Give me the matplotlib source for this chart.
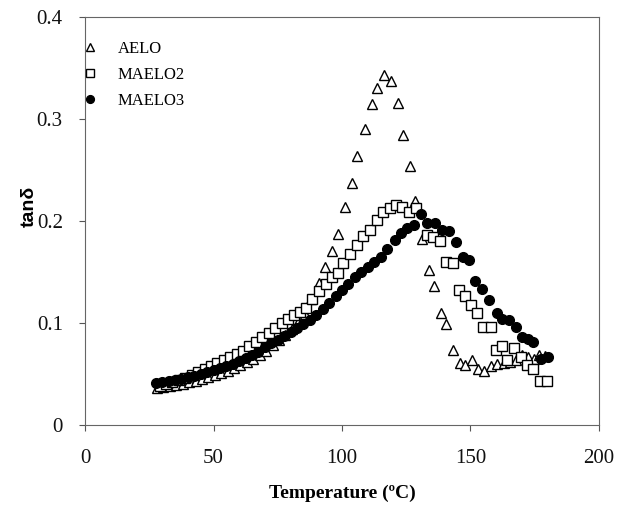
import matplotlib
matplotlib.use("Agg")
import matplotlib.pyplot as plt
from matplotlib.ticker import FuncFormatter

# AELO (open triangles)
aelo_t = [28, 30.5, 33, 35.5, 38, 40.5, 43, 45.5, 48, 50.5, 53, 55.5, 58, 60.5, 63, 65.5,
          68, 70.5, 73, 75.5, 78, 80.5, 83, 85.5, 88,
          91, 93.3, 96, 98.5, 101.2, 103.7, 106, 108.8, 111.5, 113.8, 116.3, 119.2, 121.6,
          123.7, 126.4, 128.4, 131.3, 133.9, 135.9, 138.7, 140.6, 143.2, 145.9, 148, 150.6,
          153.1, 155.3, 157.9, 160.5, 163.1, 165.3, 167.6, 169.9, 172.4, 174.6, 176.7, 179]
aelo_tan = [0.036, 0.037, 0.038, 0.039, 0.040, 0.042, 0.043, 0.045, 0.047, 0.049, 0.051,
            0.053, 0.056, 0.059, 0.062, 0.065, 0.069, 0.073, 0.078, 0.083, 0.088, 0.094,
            0.101, 0.109, 0.124,
            0.1395, 0.155, 0.171, 0.187, 0.214, 0.2375, 0.264, 0.290, 0.315, 0.330, 0.343,
            0.3375, 0.316, 0.284, 0.254, 0.220, 0.182, 0.152, 0.136, 0.1095, 0.099, 0.0735,
            0.0605, 0.0585, 0.0637, 0.055, 0.053, 0.058, 0.060, 0.0605, 0.062, 0.0637,
            0.0686, 0.067, 0.065, 0.0686, 0.068]

# MAELO2 (open squares)
maelo2_t = [29, 31.5, 34, 36.5, 39, 41.5, 44, 46.5, 49, 51.5, 54, 56.5, 59, 61.5, 64, 66.5,
            69, 71.5, 74, 76.5, 79, 81.5, 83.5, 85.8, 88.4, 91, 93.6, 96.2, 98.5, 100.5,
            103.3, 105.9, 108.3, 110.9, 113.5, 115.9, 118.7, 121.1, 123.5, 126, 128.7,
            133.2, 135.5, 138.1, 140.6, 143.3, 145.5, 147.9, 150.1, 152.7, 155, 157.9,
            159.8, 162.4, 164.4, 167, 169.6, 171.9, 174.5, 177.1, 179.6]
maelo2_tan = [0.038, 0.040, 0.042, 0.044, 0.046, 0.049, 0.052, 0.055, 0.058, 0.061, 0.064,
              0.067, 0.070, 0.073, 0.077, 0.081, 0.086, 0.090, 0.095, 0.100, 0.104, 0.108,
              0.111, 0.115, 0.124, 0.131, 0.138, 0.1448, 0.1487, 0.159, 0.168, 0.1765,
              0.1853, 0.191, 0.201, 0.209, 0.2124, 0.2157, 0.214, 0.209, 0.2124,
              0.186, 0.1846, 0.18, 0.1595, 0.1585, 0.132, 0.126, 0.1176, 0.110, 0.0958,
              0.0958, 0.0735, 0.0775, 0.064, 0.075, 0.067, 0.0588, 0.0546, 0.0434, 0.0434]

# MAELO3 (filled circles)
maelo3_t = [27.6, 30, 32.5, 35, 37.5, 40, 42.5, 45, 47.5, 50, 52.5, 55, 57.5, 60, 62.5, 65,
            67.5, 70, 72.5, 75, 77.5, 80, 82.5, 85, 87.5, 90, 92.5, 95, 97.5, 100, 102.5,
            105, 107.5, 110, 112.5, 115,
            117.6, 120.5, 122.8, 125.4, 128, 130.9, 133.2, 136.2, 139, 141.6, 144.2, 146.9,
            149.4, 151.8, 154.6, 157.2, 160.5, 162.4, 165, 167.6, 169.9, 172.2, 174.5,
            177.4, 180]
maelo3_tan = [0.041, 0.042, 0.043, 0.044, 0.045, 0.047, 0.048, 0.050, 0.052, 0.054,
              0.056, 0.058, 0.060, 0.063, 0.066, 0.069, 0.072, 0.076, 0.080, 0.083,
              0.087, 0.091, 0.095, 0.099, 0.103, 0.108, 0.114, 0.120, 0.126, 0.132,
              0.138, 0.145, 0.150, 0.155, 0.160, 0.165,
              0.173, 0.181, 0.188, 0.193, 0.196, 0.207, 0.198, 0.198, 0.191, 0.190,
              0.179, 0.165, 0.162, 0.1415, 0.133, 0.123, 0.110, 0.104, 0.103, 0.096,
              0.086, 0.084, 0.081, 0.065, 0.067]

x_ticks = [0, 50, 100, 150, 200]
y_ticks = [0, 0.1, 0.2, 0.3, 0.4]

plt.rcParams['font.family'] = ['Liberation Serif', 'DejaVu Serif']

fig = plt.figure(figsize=(6.17, 5.08), dpi=100)
ax = fig.add_axes([0.1378, 0.1634, 0.8330, 0.8031])

ax.plot(aelo_t, aelo_tan, linestyle='none', marker='^', markersize=6.5,
        markerfacecolor='white', markeredgecolor='black', markeredgewidth=1.0, label='AELO')
ax.plot(maelo2_t, maelo2_tan, linestyle='none', marker='s', markersize=6.5,
        markerfacecolor='white', markeredgecolor='black', markeredgewidth=1.0, label='MAELO2')
ax.plot(maelo3_t, maelo3_tan, linestyle='none', marker='o', markersize=7,
        markerfacecolor='black', markeredgecolor='black', label='MAELO3')

ax.set_xlim(0, 200)
ax.set_ylim(0, 0.4)
ax.set_xticks(x_ticks)
ax.set_yticks(y_ticks)
ax.yaxis.set_major_formatter(FuncFormatter(lambda v, p: '0' if v == 0 else '%.1f' % v))
ax.tick_params(direction='out', length=4, width=0.8, colors='#555555',
               labelsize=15, labelcolor='#111111')
ax.tick_params(axis='y', pad=12)
ax.tick_params(axis='x', pad=13)

for s in ax.spines.values():
    s.set_color('#666666')
    s.set_linewidth(0.8)

ax.set_xlabel('Temperature (ºC)', fontsize=14, fontweight='bold', labelpad=12)
ax.set_ylabel('tanδ', fontsize=14, fontweight='bold', family=['Liberation Sans', 'DejaVu Sans'])
ax.yaxis.set_label_coords(-0.092, 0.535)

leg = ax.legend(loc='upper left', bbox_to_anchor=(-0.03, 0.97), frameon=False, fontsize=12,
                handlelength=1.0, handletextpad=1.2, labelspacing=0.6, markerscale=0.8,
                borderaxespad=0.3)

fig.savefig('out.png', dpi=100)
